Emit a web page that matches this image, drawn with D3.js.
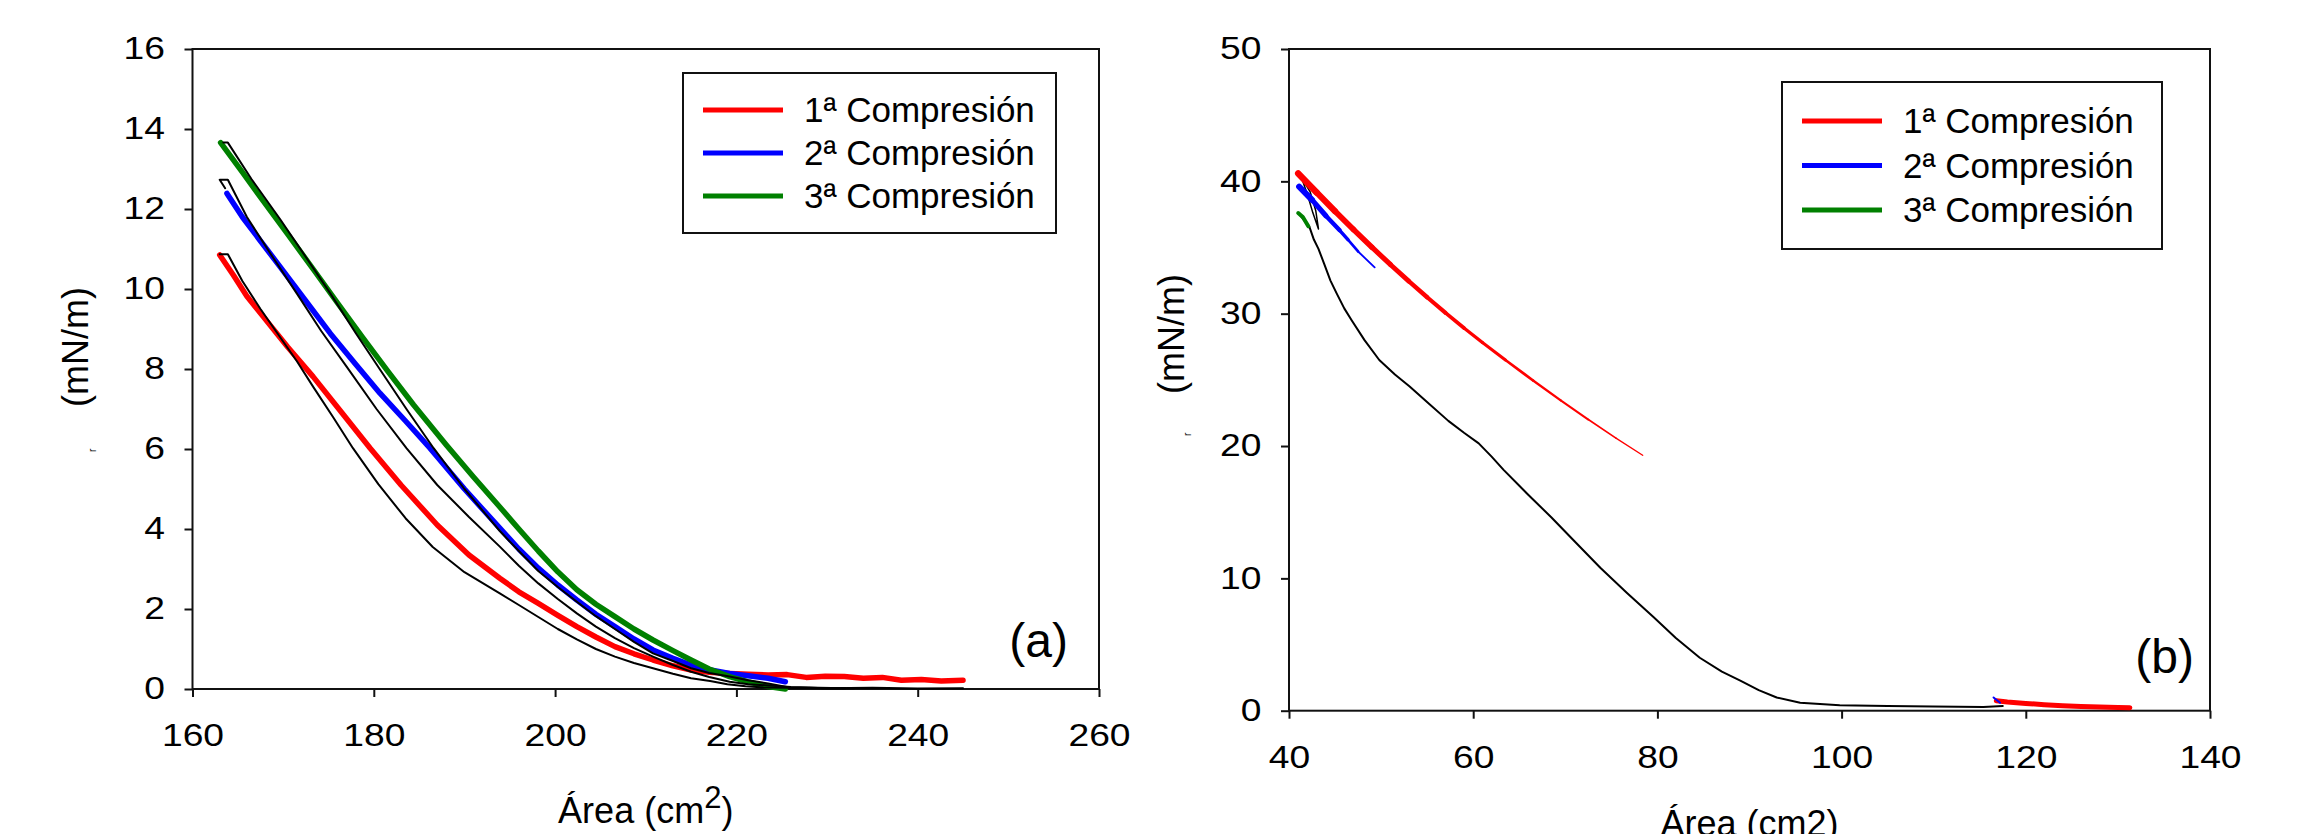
<!DOCTYPE html>
<html>
<head>
<meta charset="utf-8">
<script src="https://cdn.jsdelivr.net/npm/d3@7"></script>
<style>
  body { margin: 0; background: #fff; }
  svg  { display: block; font-family: "Liberation Sans", Arial, sans-serif; }
</style>
</head>
<body>
<div id="chart"></div>
<script>
// ---- data, panel (a) : area (cm2) vs pressure (mN/m) ----
let aTicksX = [160, 180, 200, 220, 240, 260],
    aTicksY = [0, 2, 4, 6, 8, 10, 12, 14, 16];

let aComp1 = [[163.0,10.85],[164.5,10.35],[166.0,9.82],[167.8,9.31],[170.5,8.55],[173.3,7.81],[176.5,6.9],
  [179.6,6.02],[183.0,5.1],[187.0,4.1],[190.5,3.35],[193.9,2.77],[196.0,2.43],[198.15,2.14],
  [200.3,1.84],[202.4,1.56],[204.5,1.3],[206.6,1.06],[208.7,0.88],[210.8,0.725],[213.0,0.58],[215.0,0.475],
  [217.0,0.42],[219.25,0.39],[221.3,0.37],[223.5,0.35],[225.6,0.36],[227.7,0.29],[229.8,0.32],[231.9,0.31],
  [234.0,0.27],[236.1,0.29],[238.2,0.22],[240.4,0.24],[242.6,0.2],[245.0,0.22]];

let aComp2 = [[163.8,12.39],[165.5,11.8],[167.5,11.2],[169.65,10.56],[172.5,9.7],[175.2,8.89],[178.0,8.12],
  [180.7,7.39],[183.5,6.7],[186.2,6.02],[190.0,5.0],[193.9,4.02],[196.0,3.5],[198.15,3.02],[200.3,2.6],
  [202.4,2.225],[204.5,1.87],[206.6,1.56],[208.7,1.25],[210.8,0.975],[213.0,0.77],[215.0,0.6],[217.0,0.48],
  [219.25,0.39],[221.3,0.33],[223.5,0.27],[225.4,0.18]];

let aComp3 = [[163.1,13.66],[165.5,12.92],[167.8,12.2],[170.5,11.37],[173.3,10.5],[176.0,9.65],[178.8,8.78],
  [181.6,7.93],[184.4,7.1],[188.0,6.1],[191.0,5.3],[193.9,4.55],[196.0,4.0],[198.15,3.45],[200.3,2.93],
  [202.4,2.48],[204.5,2.12],[206.6,1.81],[208.7,1.5],[210.8,1.225],[213.0,0.96],[215.0,0.725],[217.0,0.5],
  [219.25,0.31],[221.3,0.18],[223.5,0.06],[225.4,0.0]];

// black traces (expansion branches)
let aBlack1 = [[163.0,10.87],[163.9,10.87],[165.5,10.2],[167.5,9.5],[169.65,8.8],[171.5,8.2],[173.3,7.56],
  [175.5,6.8],[177.7,6.02],[180.5,5.12],[183.5,4.27],[186.5,3.55],[190.0,2.92],[193.9,2.39],[196.0,2.1],
  [198.15,1.8],[200.3,1.5],[202.4,1.24],[204.5,1.0],[206.6,0.81],[208.7,0.65],[210.8,0.52],[213.0,0.38],
  [215.0,0.27],[217.1,0.2],[219.0,0.12],[221.0,0.07],[223.0,0.04],[226.0,0.03],[230.0,0.02],[235.0,0.03],
  [240.0,0.01],[245.0,0.02]];

let aBlack2 = [[163.6,12.52],[163.0,12.73],[163.9,12.73],[166.0,11.8],[168.7,10.85],[171.5,9.89],[174.2,8.95],
  [177.0,8.06],[180.3,7.0],[183.6,6.02],[187.0,5.1],[190.5,4.3],[193.9,3.56],[196.0,3.08],[198.15,2.64],
  [200.3,2.25],[202.4,1.89],[204.5,1.56],[206.6,1.27],[208.7,1.02],[210.8,0.81],[213.0,0.6],[215.0,0.43],
  [217.0,0.3],[219.25,0.18],[221.3,0.12],[223.5,0.09],[226.0,0.05],[229.0,0.03],[232.0,0.02]];

let aBlack3 = [[163.4,13.66],[163.9,13.66],[166.5,12.75],[169.65,11.75],[172.5,10.8],[175.2,9.89],[178.0,8.9],
  [180.7,7.98],[183.6,7.0],[186.6,6.02],[190.0,5.0],[193.9,3.95],[196.0,3.45],[198.15,2.95],[200.3,2.55],
  [202.4,2.18],[204.5,1.82],[206.6,1.5],[208.7,1.18],[210.8,0.89],[213.0,0.7],[215.0,0.52],[217.0,0.4],
  [219.25,0.31],[221.3,0.22],[223.5,0.14],[226.0,0.03],[228.0,0.03],[230.0,0.02],[233.0,0.02]];

// ---- data, panel (b) ----
let bTicksX = [40, 60, 80, 100, 120, 140],
    bTicksY = [0, 10, 20, 30, 40, 50];

let bComp1 = [[41.0,40.6],[43,39.16],[45,37.74],[47,36.36],[49,35.02],[51,33.72],[53,32.46],[55,31.24],
  [57,30.06],[59,28.92],[61,27.82],[63.5,26.5],[66.5,24.95],[69.5,23.45],[72.5,22.0],[75.5,20.6],[78.4,19.3]];
let bComp1Tail = [[116.8,0.75],[118,0.65],[120,0.55],[122,0.45],[124,0.38],[126,0.32],[128,0.28],[130,0.25],[131.3,0.22]];

let bComp2 = [[41.1,39.6],[42.5,38.6],[44,37.4],[45.5,36.3],[46.4,35.6],[47.5,34.7],[49.3,33.5]];
let bComp2Tail = [[116.5,1.0],[117.2,0.6]];

let bComp3 = [[41.0,37.6],[41.5,37.3],[42.1,36.6]];

let bBlackSpike = [[41.4,40.2],[42.0,39.0],[42.6,37.6],[43.2,36.4],[42.9,37.8],[42.3,39.2],[41.6,40.0]];
let bBlack = [[41.0,37.6],[41.6,37.1],[42.2,36.6],[42.7,35.6],[43.2,34.9],[43.8,33.8],[44.5,32.5],[45.2,31.5],
  [46.0,30.4],[46.8,29.5],[48.2,28.0],[49.8,26.5],[51.5,25.4],[53.1,24.5],[55.2,23.2],[57.3,21.9],[59.0,21.0],
  [60.6,20.2],[62.0,19.2],[63.3,18.2],[66,16.3],[68.5,14.6],[71,12.8],[73.8,10.8],[76.7,8.9],[79.6,7.06],
  [82,5.5],[84.6,4.0],[87,2.95],[89.0,2.27],[91,1.55],[92.95,1.0],[95.5,0.6],[99.8,0.42],[105,0.36],
  [109.9,0.32],[115.4,0.28],[117.5,0.35]];

let legendNames  = ["1ª Compresión", "2ª Compresión", "3ª Compresión"],
    legendColors = ["#ff0000", "#0000ff", "#008000"];

let svg = d3.select("#chart")
  .append("svg")
    .attr("width", 2303)
    .attr("height", 834);

function translate(x, y=0) {
  return "translate({x}, {y})".replace("{x}", x).replace("{y}", y);
}

function drawPanel(p) {
  let x = d3.scaleLinear().domain(p.xDomain).range([p.left, p.right]),
      y = d3.scaleLinear().domain(p.yDomain).range([p.bottom, p.top]);

  let g = svg.append("g");

  // axes, ticks outward, labels stretched a bit like the source
  let ax = g.append("g")
      .attr("transform", translate(0, p.bottom))
      .call(d3.axisBottom(x).tickValues(p.xTicks).tickSize(8).tickPadding(27).tickSizeOuter(0));
  let ay = g.append("g")
      .attr("transform", translate(p.left, 0))
      .call(d3.axisLeft(y).tickValues(p.yTicks).tickSize(8).tickPadding(15).tickSizeOuter(0));

  [ax, ay].forEach(function(a) {
    a.select(".domain").remove();
    a.selectAll(".tick line").attr("stroke", "#111").attr("stroke-width", 2);
    a.selectAll(".tick text")
      .attr("fill", "#000")
      .style("font-size", "31px")
      .style("font-family", "'Liberation Sans', Arial, sans-serif")
      .attr("transform", "scale(1.2,1)");
  });

  g.append("rect")
    .attr("x", p.left).attr("y", p.top)
    .attr("width", p.right - p.left).attr("height", p.bottom - p.top)
    .attr("fill", "none").attr("stroke", "#111").attr("stroke-width", 2);

  let line = d3.line()
    .x(function(d) { return x(d[0]); })
    .y(function(d) { return y(d[1]); });

  p.series.forEach(function(s) {
    if (s.taper) {
      // thick head thinning out towards the end
      let w = d3.scaleLinear().domain([0, s.data.length - 1]).range(s.taper);
      for (let i = 0; i < s.data.length - 1; i++) {
        g.append("path")
          .attr("d", line([s.data[i], s.data[i + 1]]))
          .attr("fill", "none").attr("stroke", s.color)
          .attr("stroke-width", w(i)).attr("stroke-linecap", "round");
      }
    } else {
      g.append("path")
        .attr("d", line(s.data))
        .attr("fill", "none")
        .attr("stroke", s.color)
        .attr("stroke-width", s.width)
        .attr("stroke-linejoin", "round")
        .attr("stroke-linecap", "round");
    }
  });

  // legend
  let L = p.legend;
  let lg = g.append("g").attr("transform", translate(L.x, L.y));
  lg.append("rect")
    .attr("width", L.w).attr("height", L.h)
    .attr("fill", "#fff").attr("stroke", "#111").attr("stroke-width", 2);
  legendNames.forEach(function(name, i) {
    let yy = L.first + i * L.gap;
    lg.append("line")
      .attr("x1", 20).attr("x2", 100).attr("y1", yy).attr("y2", yy)
      .attr("stroke", legendColors[i]).attr("stroke-width", 5);
    lg.append("text")
      .attr("x", 121).attr("y", yy).attr("dy", "0.35em")
      .style("font-size", "35px")
      .text(name);
  });

  // y title
  g.append("text")
    .attr("transform", translate(p.yTitle[0], p.yTitle[1]) + " rotate(-90)")
    .attr("text-anchor", "middle")
    .style("font-size", "36px")
    .text("(mN/m)");
  g.append("text")
    .attr("transform", translate(p.mark[0], p.mark[1]) + " rotate(-90)")
    .style("font-size", "10px")
    .text("r");

  // x title
  let xt = g.append("text")
    .attr("x", (p.left + p.right) / 2).attr("y", p.xTitleY)
    .attr("text-anchor", "middle")
    .style("font-size", "36px");
  if (p.supTitle) {
    xt.append("tspan").text("Área (cm");
    xt.append("tspan").attr("dy", -15).style("font-size", "31px").text("2");
    xt.append("tspan").attr("dy", 15).text(")");
  } else {
    xt.text("Área (cm2)");
  }

  // panel tag
  g.append("text")
    .attr("x", p.tag[0]).attr("y", p.tag[1]).attr("dy", "0.35em")
    .attr("text-anchor", "end")
    .style("font-size", "48px")
    .text(p.tagText);
}

drawPanel({
  left: 192.5, right: 1099, top: 49, bottom: 689,
  xDomain: [160, 260], yDomain: [0, 16],
  xTicks: aTicksX, yTicks: aTicksY,
  series: [
    {data: aComp1, color: "#ff0000", width: 5.5},
    {data: aComp2, color: "#0000ff", width: 5.5},
    {data: aComp3, color: "#008000", width: 5.5},
    {data: aBlack1, color: "#000", width: 2},
    {data: aBlack2, color: "#000", width: 2},
    {data: aBlack3, color: "#000", width: 2}
  ],
  legend: {x: 683, y: 73, w: 373, h: 160, first: 37, gap: 43},
  yTitle: [88, 347], mark: [96, 452],
  xTitleY: 823, supTitle: true,
  tag: [1068, 640], tagText: "(a)"
});

drawPanel({
  left: 1289, right: 2210, top: 49, bottom: 710.7,
  xDomain: [40, 140], yDomain: [0, 50],
  xTicks: bTicksX, yTicks: bTicksY,
  series: [
    {data: bBlack, color: "#000", width: 2},
    {data: bBlackSpike, color: "#000", width: 1.5},
    {data: bComp1, color: "#ff0000", taper: [6.5, 1]},
    {data: bComp1Tail, color: "#ff0000", width: 5},
    {data: bComp2, color: "#0000ff", taper: [6, 1]},
    {data: bComp2Tail, color: "#0000ff", width: 2},
    {data: bComp3, color: "#008000", width: 4}
  ],
  legend: {x: 1782, y: 82, w: 380, h: 167, first: 39, gap: 44.5},
  yTitle: [1184, 334], mark: [1191, 436],
  xTitleY: 836, supTitle: false,
  tag: [2194, 656], tagText: "(b)"
});
</script>
</body>
</html>
